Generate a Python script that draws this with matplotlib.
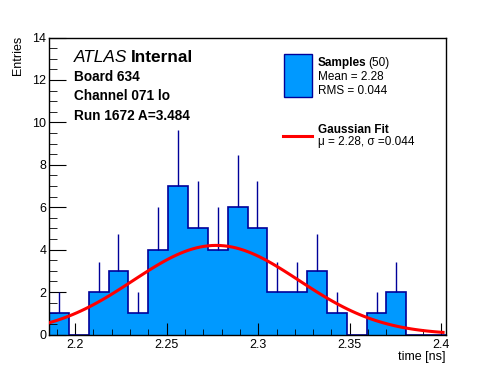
import matplotlib
matplotlib.use('Agg')
import matplotlib.pyplot as plt
from matplotlib.ticker import MultipleLocator
import numpy as np

# histogram: 20 bins spanning the axis range
x_min, x_max = 2.1857, 2.4026
counts = [1, 0, 2, 3, 1, 4, 7, 5, 4, 6, 5, 2, 2, 3, 1, 0, 1, 2, 0, 0]

# gaussian fit parameters (amplitude, mean, sigma)
fit_amp, fit_mu, fit_sigma = 4.2, 2.277, 0.0453

top_lines = ['Board 634', 'Channel 071 lo', 'Run 1672 A=3.484']
n_samples = 50
mean_txt, rms_txt = '2.28', '0.044'

W, H = 496, 372
plt.rcParams['font.family'] = ['Liberation Sans', 'DejaVu Sans']

fig = plt.figure(figsize=(W / 100, H / 100), dpi=100)
fig.patch.set_facecolor('white')


def fx(px):
    return px / W


def fy(py):
    return 1 - py / H


ax = fig.add_axes([fx(49), fy(334.5), fx(446) - fx(49), fy(37.5) - fy(334.5)])

edges = np.linspace(x_min, x_max, len(counts) + 1)
c = np.array(counts, dtype=float)
centers = 0.5 * (edges[:-1] + edges[1:])

ax.stairs(c, edges, fill=True, facecolor='#0099ff', edgecolor='none', zorder=1)
ax.stairs(c, edges, color='#000099', lw=1.2, zorder=2)
nz = c > 0
ax.vlines(centers[nz], c[nz], c[nz] + np.sqrt(c[nz]), color='#000099', lw=1.0, zorder=2)

xf = np.linspace(x_min, 2.401, 100)
yf = fit_amp * np.exp(-0.5 * ((xf - fit_mu) / fit_sigma) ** 2)
ax.plot(xf, yf, color='#ff0000', lw=2.2, zorder=3)

ax.set_xlim(x_min, x_max)
ax.set_ylim(0, 14)
ax.xaxis.set_major_locator(MultipleLocator(0.05))
ax.xaxis.set_minor_locator(MultipleLocator(0.01))
ax.yaxis.set_major_locator(MultipleLocator(2))
ax.yaxis.set_minor_locator(MultipleLocator(0.5))
ax.xaxis.set_major_formatter(plt.FuncFormatter(lambda v, p: ('%.2f' % v).rstrip('0').rstrip('.')))
ax.tick_params(which='both', direction='in', top=False, right=False, labelsize=9, colors='black')
ax.tick_params(axis='x', which='major', length=9, pad=3)
ax.tick_params(axis='x', which='minor', length=4.5)
ax.tick_params(axis='y', which='major', length=12, pad=2)
ax.tick_params(axis='y', which='minor', length=6)
for s in ax.spines.values():
    s.set_linewidth(1.0)

fig.text(fx(446), fy(351), 'time [ns]', ha='right', va='top', fontsize=9)
fig.text(fx(18.5), fy(36), 'Entries', ha='center', va='top', rotation=90, fontsize=9)

fig.canvas.draw()
r = fig.canvas.get_renderer()

t = fig.text(fx(74), fy(62.5), 'ATLAS', style='italic', fontsize=12.4, va='baseline')
bb = t.get_window_extent(r)
fig.text((bb.x1 + 4) / W, fy(62.5), 'Internal', weight='bold', fontsize=12.4, va='baseline')
for i, line in enumerate(top_lines):
    fig.text(fx(74), fy(81 + 19.3 * i), line, weight='bold', fontsize=9.8, va='baseline')

# legend
fig.patches.append(plt.Rectangle((fx(283.5), fy(96.5)), fx(311.5) - fx(283.5), fy(53.5) - fy(96.5),
                                 transform=fig.transFigure, facecolor='#0099ff',
                                 edgecolor='#000099', lw=1.0))
t = fig.text(fx(318), fy(66), 'Samples', weight='bold', fontsize=8.5, va='baseline')
bb = t.get_window_extent(r)
fig.text((bb.x1 + 2) / W, fy(66), '(%d)' % n_samples, fontsize=8.5, va='baseline')
fig.text(fx(318), fy(80.5), 'Mean = ' + mean_txt, fontsize=8.5, va='baseline')
fig.text(fx(318), fy(94), 'RMS = ' + rms_txt, fontsize=8.5, va='baseline')
fig.lines.append(plt.Line2D([fx(283), fx(312)], [fy(135.7), fy(135.7)], transform=fig.transFigure,
                            color='#ff0000', lw=2.2))
fig.text(fx(318), fy(133), 'Gaussian Fit', weight='bold', fontsize=8.5, va='baseline')
fig.text(fx(318), fy(145), 'μ = %s, σ =%s' % (mean_txt, rms_txt), fontsize=8.5, va='baseline')

fig.savefig('out.png', dpi=100)
